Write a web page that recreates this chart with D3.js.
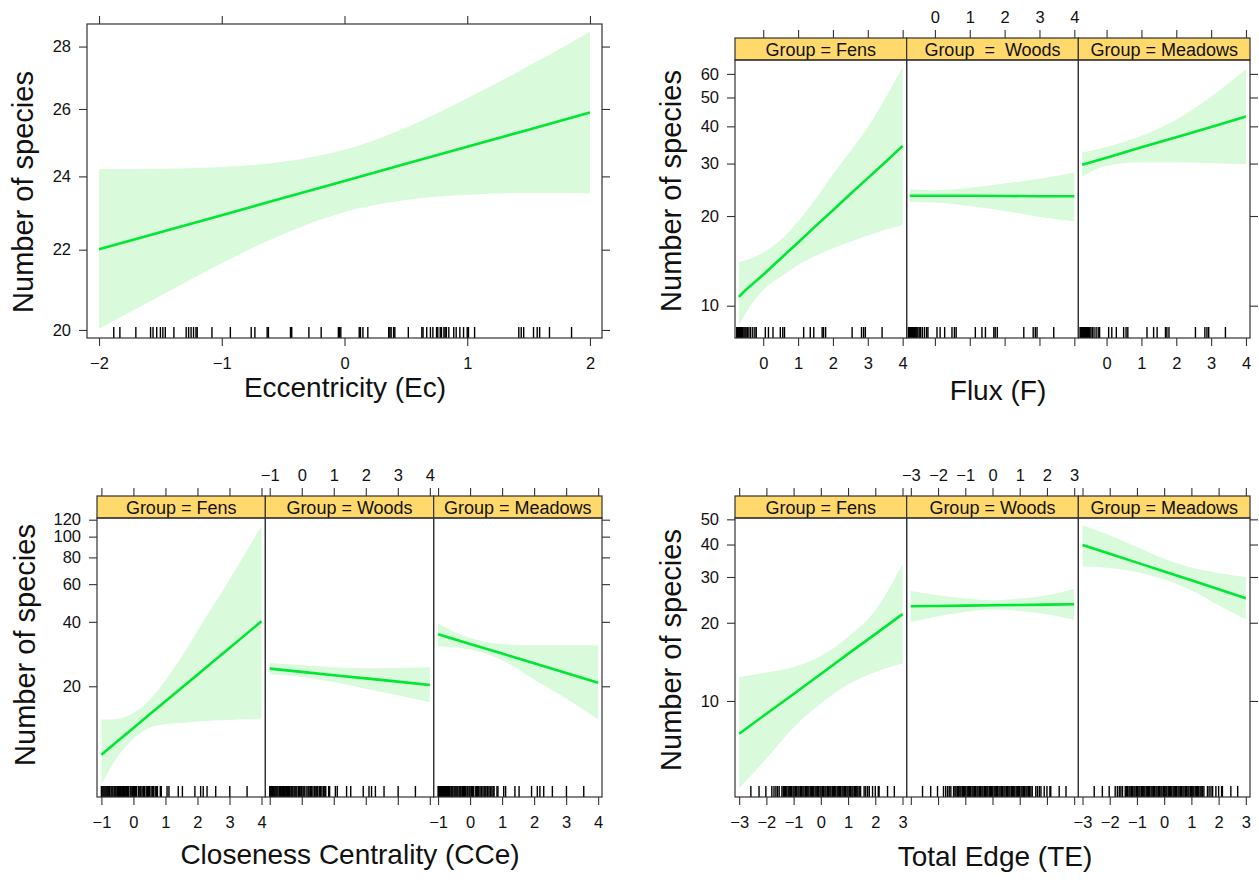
<!DOCTYPE html>
<html>
<head>
<meta charset="utf-8">
<script src="https://cdn.jsdelivr.net/npm/d3@7"></script>
<style>
  body { margin: 0; background: #fff; }
</style>
</head>
<body>
<div id="chart"></div>
<script>
// effect plots of number of species

const groups = ["Fens", "Woods", "Meadows"];

// Eccentricity (Ec)
const ecX = [-2, -1.5, -1, -0.5, 0, 0.5, 1, 1.5, 2];
const ecFit = [22.01, 22.46, 22.92, 23.39, 23.87, 24.36, 24.86, 25.37, 25.89];
const ecLower = [20.02, 20.83, 21.65, 22.41, 23.01, 23.34, 23.48, 23.53, 23.52];
const ecUpper = [24.21, 24.22, 24.27, 24.42, 24.77, 25.43, 26.33, 27.36, 28.5];
const ecRug = [-1.88, -1.83, -1.7, -1.58, -1.56, -1.53, -1.5, -1.48, -1.46, -1.39, -1.29, -1.27,
  -1.25, -1.23, -1.21, -1.2, -1.08, -0.93, -0.76, -0.73, -0.63, -0.62, -0.44, -0.43, -0.29,
  -0.19, -0.05, -0.04, -0.03, 0.12, 0.13, 0.15, 0.19, 0.36, 0.37, 0.38, 0.4, 0.41, 0.52, 0.63,
  0.64, 0.67, 0.7, 0.72, 0.75, 0.76, 0.78, 0.79, 0.81, 0.82, 0.83, 0.85, 0.89, 0.91, 0.94,
  0.97, 1.0, 1.01, 1.06, 1.42, 1.44, 1.46, 1.54, 1.57, 1.59, 1.67, 1.85];
const ecXTicks = [-2, -1, 0, 1, 2];
const ecYTicks = [20, 22, 24, 26, 28];

// Flux (F), one array per group
const fluxX = [
  [-0.7, -0.5, 0, 0.5, 1, 1.5, 2, 2.5, 3, 3.5, 4],
  [-0.72, 0, 1, 2, 3, 4],
  [-0.7, 0, 1, 2, 3, 4]
];
const fluxFit = [
  [10.7, 11.3, 12.7, 14.4, 16.3, 18.5, 20.9, 23.7, 26.8, 30.3, 34.4],
  [23.4, 23.4, 23.4, 23.35, 23.3, 23.3],
  [29.7, 31.4, 34.0, 36.8, 39.8, 43.2]
];
const fluxLower = [
  [8.6, 9.45, 11.3, 12.5, 13.7, 14.7, 15.6, 16.4, 17.2, 18.0, 18.7],
  [22.3, 22.2, 21.6, 20.8, 19.9, 19.2],
  [27.1, 29.5, 30.3, 30.3, 30.1, 29.9]
];
const fluxUpper = [
  [14.0, 14.2, 15.1, 16.6, 19.2, 22.8, 27.6, 33.0, 39.7, 49.7, 63.2],
  [24.6, 24.4, 24.9, 25.7, 26.7, 28.0],
  [32.7, 34.1, 37.2, 42.1, 50.4, 62.2]
];
const fluxRug = [-0.76, -0.74, -0.72, -0.7, -0.68, -0.66, -0.64, -0.62, -0.6, -0.58, -0.55, -0.52,
  -0.49, -0.45, -0.41, -0.36, -0.3, -0.24, -0.2, 0.06, 0.15, 0.28, 0.49, 0.56, 0.61, 1.16, 1.35,
  1.45, 1.69, 1.73, 1.79, 2.55, 2.82, 2.88, 2.93, 3.41];
const fluxXTicks = [0, 1, 2, 3, 4];
const fluxYTicks = [10, 20, 30, 40, 50, 60];
const fluxStrips = ["Group = Fens", "Group  =  Woods", "Group = Meadows"];

// Closeness Centrality (CCe)
const cceX = [
  [-1, -0.5, 0, 0.5, 1, 1.5, 2, 2.5, 3, 3.5, 4],
  [-1, 0, 1, 2, 3, 4],
  [-1, 0, 1, 2, 3, 4]
];
const cceFit = [
  [9.59, 11.07, 12.78, 14.75, 17.02, 19.64, 22.67, 26.17, 30.2, 34.86, 40.23],
  [24.18, 23.35, 22.54, 21.77, 21.02, 20.29],
  [34.98, 31.52, 28.42, 25.61, 23.08, 20.8]
];
const cceLower = [
  [6.97, 9.35, 11.39, 12.82, 13.29, 13.48, 13.68, 13.83, 13.93, 14.03, 14.13],
  [22.75, 22.11, 20.95, 19.5, 18.16, 16.84],
  [30.75, 29.67, 26.45, 21.49, 17.52, 13.98]
];
const cceUpper = [
  [13.98, 14.08, 15.01, 17.21, 21.33, 27.42, 36.26, 47.78, 62.98, 83.9, 111.7],
  [25.7, 25.16, 24.53, 24.27, 24.36, 24.53],
  [39.23, 33.63, 31.52, 31.08, 31.08, 31.08]
];
const cceRug = [-1.0, -0.98, -0.95, -0.92, -0.89, -0.86, -0.83, -0.8, -0.77, -0.74, -0.7, -0.67,
  -0.64, -0.6, -0.57, -0.54, -0.5, -0.47, -0.44, -0.41, -0.38, -0.34, -0.31, -0.28, -0.24, -0.21,
  -0.18, -0.15, -0.1, -0.07, -0.03, 0.0, 0.04, 0.07, 0.1, 0.16, 0.2, 0.23, 0.27, 0.31, 0.35, 0.4,
  0.44, 0.47, 0.5, 0.55, 0.59, 0.63, 0.68, 0.72, 0.75, 0.84, 0.87, 1.05, 1.11, 1.4, 1.53, 1.92,
  2.1, 2.18, 2.3, 2.57, 3.01, 3.55];
const cceXTicks = [-1, 0, 1, 2, 3, 4];
const cceYTicks = [20, 40, 60, 80, 100, 120];

// Total Edge (TE)
const teX = [
  [-3, -2, -1, 0, 1, 2, 3],
  [-3, -2, -1, 0, 1, 2, 3],
  [-3, -2, -1, 0, 1, 2, 3]
];
const teFit = [
  [7.48, 8.93, 10.64, 12.7, 15.18, 18.09, 21.59],
  [23.14, 23.2, 23.27, 23.34, 23.41, 23.48, 23.55],
  [39.86, 36.83, 34.07, 31.49, 29.13, 26.9, 24.86]
];
const teLower = [
  [4.6, 6.0, 7.9, 9.77, 11.56, 12.93, 13.93],
  [20.08, 21.18, 22.0, 22.47, 22.19, 21.55, 20.49],
  [32.97, 32.48, 31.35, 29.31, 26.66, 23.34, 20.57]
];
const teUpper = [
  [12.37, 12.86, 13.52, 14.9, 17.63, 22.33, 33.56],
  [26.49, 25.5, 24.77, 24.4, 24.77, 25.5, 27.06],
  [47.41, 43.39, 39.12, 35.3, 32.6, 31.07, 29.99]
];
const teRug = [-2.57, -2.27, -2.02, -1.8, -1.72, -1.65, -1.59, -1.53,
  -1.43, -1.38, -1.34, -1.29, -1.25, -1.2, -1.16, -1.11, -1.07, -1.02, -0.98, -0.93, -0.89, -0.84,
  -0.8, -0.75, -0.71, -0.66, -0.62, -0.57, -0.53, -0.48, -0.44, -0.39, -0.35, -0.3, -0.26, -0.21,
  -0.17, -0.12, -0.08, -0.03, 0.01, 0.06, 0.1, 0.15, 0.19, 0.24, 0.28, 0.33, 0.37, 0.42, 0.46,
  0.51, 0.55, 0.6, 0.64, 0.69, 0.73, 0.78, 0.82, 0.87, 0.91, 0.96, 1.0, 1.05, 1.09, 1.14, 1.18,
  1.23, 1.27, 1.32, 1.36, 1.41, 1.46, 1.59, 1.65, 1.72, 1.78, 1.9, 2.0, 2.11, 2.14, 2.45, 2.7];
const teXTicks = [-3, -2, -1, 0, 1, 2, 3];
const teYTicks = [10, 20, 30, 40, 50];

const groupStrips = groups.map(d => "Group = " + d);

const FONT = '"Liberation Sans", Arial, Helvetica, sans-serif';
const BAND = "#d9fadb";
const LINE = "#00e633";
const STRIP = "#ffd96b";
const INK = "#333";

const svg = d3.select("#chart").append("svg")
  .attr("width", 1259)
  .attr("height", 880)
  .style("font-family", FONT);

function styleAxis(sel) {
  sel.attr("font-size", null).attr("font-family", null);
  sel.select(".domain").remove();
  sel.selectAll(".tick line").attr("stroke", INK).attr("stroke-width", 1.1);
  sel.selectAll(".tick text").attr("fill", "#111").style("font-size", "16.5px").style("font-family", FONT);
  return sel;
}

function drawPlot(cfg) {
  const n = cfg.fit.length;
  const pw = (cfg.right - cfg.left) / n;
  const y = d3.scaleLog().domain(cfg.yDomain).range([cfg.bottom, cfg.top]);
  const g = svg.append("g");
  const axTop = cfg.strips ? cfg.stripTop : cfg.top;

  cfg.fit.forEach((fit, i) => {
    const x0 = cfg.left + i * pw;
    const x = d3.scaleLinear().domain(cfg.xDomain).range([x0, x0 + pw]);
    const xs = cfg.x[i];
    const id = `clip-${cfg.name}-${i}`;

    g.append("clipPath").attr("id", id).append("rect")
      .attr("x", x0).attr("y", cfg.top)
      .attr("width", pw).attr("height", cfg.bottom - cfg.top);

    const p = g.append("g").attr("clip-path", `url(#${id})`);

    p.append("path").datum(xs)
      .attr("d", d3.area()
        .x(d => x(d))
        .y0((d, j) => y(cfg.lower[i][j]))
        .y1((d, j) => y(cfg.upper[i][j]))
        .curve(d3.curveMonotoneX))
      .attr("fill", BAND);

    p.selectAll(".rug").data(cfg.rug).enter().append("line")
      .attr("class", "rug")
      .attr("x1", d => x(d)).attr("x2", d => x(d))
      .attr("y1", cfg.bottom - 11).attr("y2", cfg.bottom)
      .attr("stroke", "#000").attr("stroke-width", 1.4);

    p.append("path").datum(xs)
      .attr("d", d3.line().x(d => x(d)).y((d, j) => y(fit[j])))
      .attr("fill", "none")
      .attr("stroke", LINE)
      .attr("stroke-width", 2.6);

    // lattice alternates the x labels: bottom on outer panels, top on the middle one
    const bottomAxis = d3.axisBottom(x).tickValues(cfg.xTicks)
      .tickSize(8).tickPadding(11)
      .tickFormat(i === 1 ? "" : d3.format("d"));
    styleAxis(g.append("g")
      .attr("transform", `translate(0,${cfg.bottom})`)
      .call(bottomAxis));

    const topAxis = d3.axisTop(x).tickValues(cfg.xTicks)
      .tickSize(8).tickPadding(7)
      .tickFormat(i === 1 ? d3.format("d") : "");
    styleAxis(g.append("g")
      .attr("transform", `translate(0,${axTop})`)
      .call(topAxis));

    if (cfg.strips) {
      g.append("rect")
        .attr("x", x0).attr("y", cfg.stripTop)
        .attr("width", pw).attr("height", cfg.top - cfg.stripTop)
        .attr("fill", STRIP).attr("stroke", INK).attr("stroke-width", 1.2);
      g.append("text")
        .attr("x", x0 + pw / 2)
        .attr("y", (cfg.stripTop + cfg.top) / 2 + 6.5)
        .attr("text-anchor", "middle")
        .style("font-size", "18px")
        .style("white-space", "pre")
        .attr("fill", "#111")
        .text(cfg.strips[i]);
    }

    g.append("rect")
      .attr("x", x0).attr("y", cfg.top)
      .attr("width", pw).attr("height", cfg.bottom - cfg.top)
      .attr("fill", "none").attr("stroke", INK).attr("stroke-width", 1.2);
  });

  const leftAxis = d3.axisLeft(y).tickValues(cfg.yTicks)
    .tickSize(8).tickPadding(8).tickFormat(d3.format("d"));
  styleAxis(g.append("g").attr("transform", `translate(${cfg.left},0)`).call(leftAxis));

  const rightAxis = d3.axisRight(y).tickValues(cfg.yTicks)
    .tickSize(8).tickFormat("");
  styleAxis(g.append("g").attr("transform", `translate(${cfg.right},0)`).call(rightAxis));

  g.append("text")
    .attr("transform", `translate(${cfg.ylab[0]},${cfg.ylab[1]}) rotate(-90)`)
    .attr("text-anchor", "middle")
    .style("font-size", "29px")
    .attr("fill", "#111")
    .text("Number of species");

  g.append("text")
    .attr("x", cfg.xlab[0]).attr("y", cfg.xlab[1])
    .attr("text-anchor", "middle")
    .style("font-size", "28px")
    .attr("fill", "#111")
    .text(cfg.xTitle);
}

drawPlot({
  name: "ec", left: 87, right: 602, top: 24, bottom: 338,
  xDomain: [-2.098, 2.098], yDomain: [19.81, 28.76],
  x: [ecX], fit: [ecFit], lower: [ecLower], upper: [ecUpper], rug: ecRug,
  xTicks: ecXTicks, yTicks: ecYTicks,
  ylab: [33, 192], xlab: [345, 397], xTitle: "Eccentricity (Ec)"
});

drawPlot({
  name: "flux", left: 735, right: 1250, stripTop: 38, top: 60, bottom: 338,
  xDomain: [-0.81, 4.115], yDomain: [7.79, 66.8],
  x: fluxX, fit: fluxFit, lower: fluxLower, upper: fluxUpper, rug: fluxRug,
  xTicks: fluxXTicks, yTicks: fluxYTicks, strips: fluxStrips,
  ylab: [681, 191], xlab: [998, 400], xTitle: "Flux (F)"
});

drawPlot({
  name: "cce", left: 97, right: 602, stripTop: 496, top: 518, bottom: 797,
  xDomain: [-1.1375, 4.12], yDomain: [6.08, 122.2],
  x: cceX, fit: cceFit, lower: cceLower, upper: cceUpper, rug: cceRug,
  xTicks: cceXTicks, yTicks: cceYTicks, strips: groupStrips,
  ylab: [35, 645], xlab: [350, 864], xTitle: "Closeness Centrality (CCe)"
});

drawPlot({
  name: "te", left: 735, right: 1250, stripTop: 496, top: 518, bottom: 797,
  xDomain: [-3.153, 3.153], yDomain: [4.27, 50.6],
  x: teX, fit: teFit, lower: teLower, upper: teUpper, rug: teRug,
  xTicks: teXTicks, yTicks: teYTicks, strips: groupStrips,
  ylab: [681, 650], xlab: [995, 866], xTitle: "Total Edge (TE)"
});
</script>
</body>
</html>
